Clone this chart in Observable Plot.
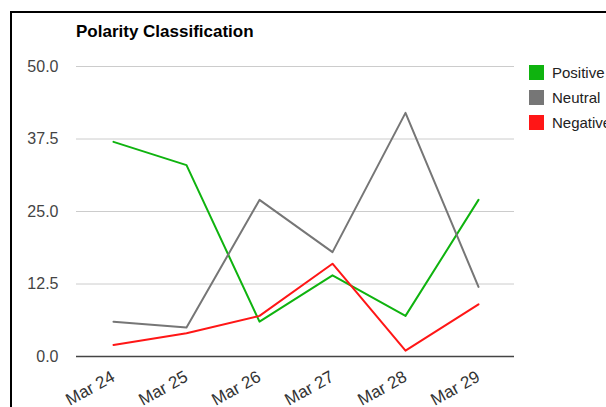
<!DOCTYPE html>
<html>
<head>
<meta charset="utf-8">
<script src="https://cdn.jsdelivr.net/npm/d3@7"></script>
<script src="https://cdn.jsdelivr.net/npm/@observablehq/plot@0.6"></script>
<style>
  html, body { margin: 0; padding: 0; background: #fff; overflow: hidden; }
  #wrap { position: relative; width: 606px; height: 407px; overflow: hidden; font-family: "Liberation Sans", Arial, sans-serif; }
  #frame { position: absolute; left: 10px; top: 11px; width: 800px; height: 600px; border: 2.5px solid #000; box-sizing: border-box; }
  #chart { position: absolute; left: 0; top: 0; }
  #title { position: absolute; left: 76px; top: 22px; font-size: 17px; font-weight: bold; color: #000; white-space: nowrap; }
  #legend { position: absolute; left: 529px; top: 60px; }
  .item { display: flex; align-items: center; height: 25px; font-size: 15px; color: #222; white-space: nowrap; }
  .sw { width: 15px; height: 15px; margin-right: 8px; flex: none; }
</style>
</head>
<body>
<div id="wrap">
  <div id="frame"></div>
  <div id="chart"></div>
  <div id="title">Polarity Classification</div>
  <div id="legend"></div>
</div>
<script>
const dates = ["Mar 24", "Mar 25", "Mar 26", "Mar 27", "Mar 28", "Mar 29"];
const seriesNames = ["Positive", "Neutral", "Negative"];
const positive = [37, 33, 6, 14, 7, 27];
const neutral = [6, 5, 27, 18, 42, 12];
const negative = [2, 4, 7, 16, 1, 9];
const yTicks = [0, 12.5, 25, 37.5, 50];
const colors = ["#0fb30f", "#767676", "#ff1616"];

const valuesBySeries = [positive, neutral, negative];
const rows = [];
seriesNames.forEach((s, i) => {
  dates.forEach((d, j) => rows.push({series: s, date: d, value: valuesBySeries[i][j]}));
});

const chart = Plot.plot({
  width: 606,
  height: 407,
  marginLeft: 76,
  marginRight: 92,
  marginTop: 66,
  marginBottom: 51,
  style: {fontFamily: "'Liberation Sans', Arial, sans-serif", background: "transparent"},
  x: {type: "point", domain: dates, padding: 0.5, label: null},
  y: {domain: [0, 50], label: null},
  color: {domain: seriesNames, range: colors},
  marks: [
    Plot.gridY(yTicks.filter(d => d > 0), {stroke: "#cccccc", strokeOpacity: 1}),
    Plot.ruleY([0], {stroke: "#444", strokeWidth: 1.5}),
    Plot.axisY({ticks: yTicks, tickSize: 0, tickPadding: 18, tickFormat: d => d.toFixed(1), fontSize: 16, fill: "#444", label: null}),
    Plot.axisX({tickSize: 0, tickRotate: -29, tickPadding: 19, fontSize: 17, fill: "#333", label: null}),
    Plot.line(rows, {x: "date", y: "value", z: "series", stroke: "series", strokeWidth: 2})
  ]
});
document.getElementById("chart").appendChild(chart);

const legend = document.getElementById("legend");
seriesNames.forEach((s, i) => {
  const item = document.createElement("div");
  item.className = "item";
  const sw = document.createElement("div");
  sw.className = "sw";
  sw.style.background = colors[i];
  const lab = document.createElement("span");
  lab.textContent = s;
  item.appendChild(sw);
  item.appendChild(lab);
  legend.appendChild(item);
});
</script>
</body>
</html>
